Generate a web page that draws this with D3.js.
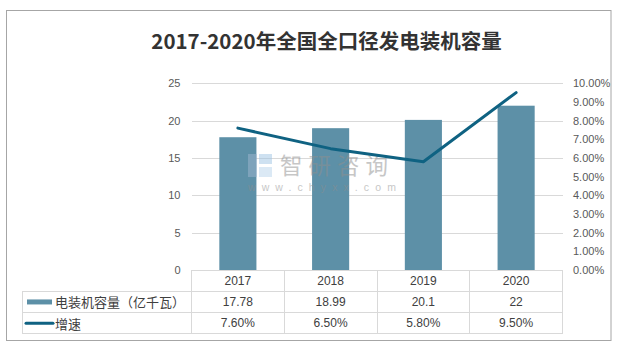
<!DOCTYPE html>
<html>
<head>
<meta charset="utf-8">
<script src="https://cdn.jsdelivr.net/npm/d3@7"></script>
<style>
  html, body { margin: 0; padding: 0; background: #fff; }
  svg { display: block; }
  text { font-family: "Liberation Sans", Arial, "Noto Sans CJK SC", sans-serif; }
  .cjk { font-family: "Noto Sans CJK SC", "Liberation Sans", sans-serif; }
</style>
</head>
<body>
<svg id="chart" width="637" height="345"></svg>
<script>
// Installed capacity of full-bore power generation, 2017-2020
const years = ['2017', '2018', '2019', '2020'];
const capacity = [17.78, 18.99, 20.1, 22];      // 亿千瓦
const growth = [7.6, 6.5, 5.8, 9.5];            // %
const leftTicks = [0, 5, 10, 15, 20, 25];
const rightTicks = [0, 1, 2, 3, 4, 5, 6, 7, 8, 9, 10];
const seriesNames = ['电装机容量（亿千瓦）', '增速'];
const titleText = '2017-2020年全国全口径发电装机容量';

const barColor = '#5d90a7';
const lineColor = '#0f6282';
const gridColor = '#d9d9d9';
const labelColor = '#595959';
const textColor = '#404040';

const svg = d3.select('#chart');

const plotLeft = 191.5, plotRight = 562.5, plotTop = 83.3, plotBottom = 270;
const tableLeft = 22, rowH = 21.3;

const x = d3.scaleBand().domain(years).range([plotLeft, plotRight]).padding(0);
const yL = d3.scaleLinear().domain([0, 25]).range([plotBottom, plotTop]);
const yR = d3.scaleLinear().domain([0, 10]).range([plotBottom, plotTop]);

// outer frame
svg.append('rect')
  .attr('x', 6.5).attr('y', 10.5).attr('width', 604.5).attr('height', 330)
  .attr('fill', '#fff').attr('stroke', '#a6a6a6').attr('stroke-width', 1);

// title
svg.append('text')
  .attr('class', 'cjk')
  .attr('x', 326.5).attr('y', 40)
  .attr('text-anchor', 'middle').attr('dominant-baseline', 'central')
  .attr('font-size', 20.5).attr('font-weight', 'bold').attr('fill', '#333')
  .text(titleText);

// gridlines
const grid = svg.append('g').attr('transform', `translate(${plotLeft},0)`)
  .call(d3.axisLeft(yL).tickValues(leftTicks.filter(d => d > 0))
    .tickSize(-(plotRight - plotLeft)).tickFormat(''));
grid.select('.domain').remove();
grid.selectAll('line').attr('stroke', gridColor).attr('stroke-width', 1)
  .attr('shape-rendering', 'crispEdges');

// left axis labels
const axL = svg.append('g').attr('transform', `translate(${plotLeft},0)`)
  .call(d3.axisLeft(yL).tickValues(leftTicks).tickSize(0).tickPadding(11));
axL.select('.domain').remove();
axL.selectAll('text').attr('font-size', 11).attr('fill', labelColor)
  .attr('font-family', '"Liberation Sans", Arial, sans-serif');

// right axis labels
const axR = svg.append('g').attr('transform', `translate(${plotRight},0)`)
  .call(d3.axisRight(yR).tickValues(rightTicks).tickSize(0).tickPadding(10.5)
    .tickFormat(d => d.toFixed(2) + '%'));
axR.select('.domain').remove();
axR.selectAll('text').attr('font-size', 11).attr('fill', labelColor)
  .attr('font-family', '"Liberation Sans", Arial, sans-serif');

// bars
const barW = x.bandwidth() * 0.4;
svg.append('g').selectAll('rect').data(capacity).join('rect')
  .attr('x', (d, i) => x(years[i]) + (x.bandwidth() - barW) / 2)
  .attr('y', d => yL(d))
  .attr('width', barW)
  .attr('height', d => yL(0) - yL(d))
  .attr('fill', barColor);

// watermark: logo mark plus site name and address
const wm = svg.append('g').attr('opacity', 0.5);
wm.append('rect').attr('x', 248).attr('y', 154).attr('width', 9).attr('height', 23).attr('fill', '#9fb7d0');
wm.append('rect').attr('x', 259).attr('y', 154).attr('width', 13).attr('height', 10).attr('fill', '#9fc4e4');
wm.append('rect').attr('x', 259).attr('y', 167).attr('width', 13).attr('height', 10).attr('fill', '#b9d4ec');
wm.append('text').attr('class', 'cjk').attr('fill', '#8f8f8f')
  .attr('x', 280).attr('y', 173.5)
  .attr('font-size', 22.5).attr('letter-spacing', 6)
  .text('智研咨询');
wm.append('text').attr('fill', '#8f8f8f')
  .attr('x', 248).attr('y', 190.5)
  .attr('font-size', 10.5).attr('letter-spacing', 6.1)
  .text('www.chyxx.com');

// growth line
const line = d3.line()
  .x((d, i) => x(years[i]) + x.bandwidth() / 2)
  .y(d => yR(d));
svg.append('path').datum(growth)
  .attr('d', line)
  .attr('fill', 'none').attr('stroke', lineColor).attr('stroke-width', 3)
  .attr('stroke-linejoin', 'round').attr('stroke-linecap', 'round');

// data table
const table = svg.append('g').attr('stroke', gridColor).attr('stroke-width', 1)
  .attr('shape-rendering', 'crispEdges');
const rowY = [plotBottom, plotBottom + rowH, plotBottom + 2 * rowH, plotBottom + 3 * rowH];
// horizontal rules
table.append('line').attr('x1', plotLeft).attr('x2', plotRight).attr('y1', rowY[0]).attr('y2', rowY[0]);
[1, 2, 3].forEach(r => {
  table.append('line').attr('x1', tableLeft).attr('x2', plotRight).attr('y1', rowY[r]).attr('y2', rowY[r]);
});
// vertical rules
table.append('line').attr('x1', tableLeft).attr('x2', tableLeft).attr('y1', rowY[1]).attr('y2', rowY[3]);
years.forEach(yr => {
  table.append('line').attr('x1', x(yr)).attr('x2', x(yr)).attr('y1', rowY[0]).attr('y2', rowY[3]);
});
table.append('line').attr('x1', plotRight).attr('x2', plotRight).attr('y1', rowY[0]).attr('y2', rowY[3]);

const cellText = (row, values) => {
  svg.append('g').selectAll('text').data(values).join('text')
    .attr('x', (d, i) => x(years[i]) + x.bandwidth() / 2)
    .attr('y', (rowY[row] + rowY[row + 1]) / 2)
    .attr('text-anchor', 'middle').attr('dominant-baseline', 'central')
    .attr('font-size', 12).attr('fill', textColor)
    .text(d => d);
};
cellText(0, years);
cellText(1, capacity.map(d => String(d)));
cellText(2, growth.map(d => d.toFixed(2) + '%'));

// legend keys in the table
const r1 = (rowY[1] + rowY[2]) / 2, r2 = (rowY[2] + rowY[3]) / 2;
svg.append('rect').attr('x', 27).attr('y', r1 - 2.5).attr('width', 25).attr('height', 5).attr('fill', barColor);
svg.append('line').attr('x1', 26).attr('x2', 53).attr('y1', r2).attr('y2', r2)
  .attr('stroke', lineColor).attr('stroke-width', 3).attr('stroke-linecap', 'round');
svg.append('text').attr('class', 'cjk').attr('x', 55).attr('y', r1)
  .attr('dominant-baseline', 'central').attr('font-size', 13).attr('fill', textColor)
  .text(seriesNames[0]);
svg.append('text').attr('class', 'cjk').attr('x', 55).attr('y', r2)
  .attr('dominant-baseline', 'central').attr('font-size', 13).attr('fill', textColor)
  .text(seriesNames[1]);
</script>
</body>
</html>
